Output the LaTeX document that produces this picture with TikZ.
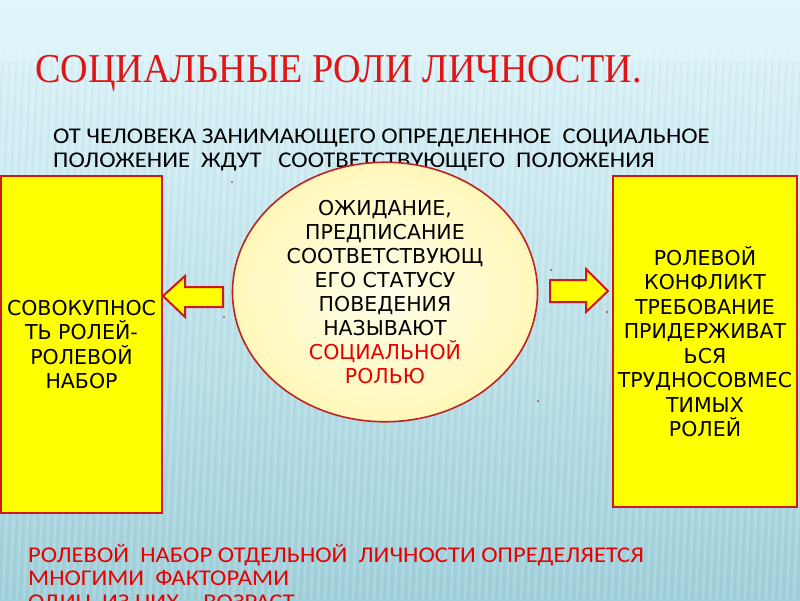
\documentclass[tikz,border=0pt]{standalone}
\usepackage{graphicx}
\usepackage{fontspec}
\setmainfont{DejaVu Sans}
\newfontfamily\titlefont{Liberation Serif}
\newfontfamily\calfont{Carlito}
\usetikzlibrary{shapes.geometric}
\definecolor{bgtop}{RGB}{224,246,251}
\definecolor{bgmid}{RGB}{200,234,242}
\definecolor{bgbot}{RGB}{160,208,218}
\definecolor{boxred}{RGB}{205,25,25}
\definecolor{ellred}{RGB}{190,35,35}
\definecolor{titlered}{RGB}{225,20,20}
\definecolor{txtred}{RGB}{230,0,0}
\definecolor{boxyellow}{RGB}{255,255,0}
\definecolor{ellin}{RGB}{255,255,235}
\definecolor{ellout}{RGB}{255,247,185}
\definecolor{dotc}{RGB}{120,70,100}
\newcommand{\widerline}[1]{\scalebox{1.095}[1]{#1}}
\begin{document}
\begin{tikzpicture}[x=1pt,y=-1pt,
  yellowbox/.style={draw=boxred, line width=2pt, fill=boxyellow, inner sep=0pt,
    align=center, font=\fontsize{20.5}{24.5}\selectfont},
  blockarrow/.style={draw=boxred, line width=2pt, fill=boxyellow, line join=miter},
  sublines/.style={anchor=base west, inner sep=0pt, font=\calfont\fontsize{22.5}{24}\selectfont},
  botlines/.style={sublines, text=txtred},
  speck/.style={circle, fill=dotc, inner sep=0pt, minimum size=2pt}]
\useasboundingbox (0,0) rectangle (800,600);
\clip (0,0) rectangle (800,600);
\shade[top color=bgtop, middle color=bgmid, bottom color=bgbot] (0,0) rectangle (800,600);
\foreach \i in {0,7,...,840}
  \draw[white, opacity=0.13, line width=2.5pt] (\i,50) -- (\i-25,600);
\foreach \i in {3,10,...,843}
  \draw[black!40!cyan, opacity=0.04, line width=2pt] (\i,50) -- (\i-25,600);
\shade[top color=bgtop, bottom color=bgtop, opacity=0.6] (0,0) rectangle (800,60);

% title
\node[anchor=base west, inner sep=0pt, text=titlered] (title) at (35,82)
  {\titlefont\fontsize{41}{41}\selectfont\scalebox{0.93}[1]{СОЦИАЛЬНЫЕ РОЛИ ЛИЧНОСТИ.}};

% subtitle
\node[sublines] (sub1) at (53,143) {\widerline{ОТ ЧЕЛОВЕКА ЗАНИМАЮЩЕГО ОПРЕДЕЛЕННОЕ ~СОЦИАЛЬНОЕ}};
\node[sublines] (sub2) at (53,167) {\widerline{ПОЛОЖЕНИЕ ~ЖДУТ ~~СООТВЕТСТВУЮЩЕГО ~ПОЛОЖЕНИЯ}};

% boxes
\node[yellowbox, minimum width=161pt, minimum height=337pt] (left) at (81.5,344.5)
  {СОВОКУПНОС\\ТЬ РОЛЕЙ-\\РОЛЕВОЙ\\НАБОР};
\node[yellowbox, minimum width=184pt, minimum height=331pt] (right) at (705,341.5)
  {РОЛЕВОЙ\\КОНФЛИКТ\\ТРЕБОВАНИЕ\\ПРИДЕРЖИВАТ\\ЬСЯ\\ТРУДНОСОВМЕС\\ТИМЫХ\\РОЛЕЙ};

% ellipse
\node[ellipse, draw=ellred, line width=1.6pt, inner color=ellin, outer color=ellout,
  minimum width=305pt, minimum height=217pt, inner sep=0pt, align=center,
  font=\fontsize{20.5}{24}\selectfont] (ell) at (385,292)
  {ОЖИДАНИЕ,\\ПРЕДПИСАНИЕ\\СООТВЕТСТВУЮЩ\\ЕГО СТАТУСУ\\ПОВЕДЕНИЯ\\НАЗЫВАЮТ\\
   \textcolor{txtred}{СОЦИАЛЬНОЙ}\\\textcolor{txtred}{РОЛЬЮ}};

% block arrows
\draw[blockarrow] (163,296) -- (185,276) -- (185,287) -- (223,287) -- (223,307)
  -- (185,307) -- (185,317) -- cycle;
\draw[blockarrow] (608,291) -- (586,269) -- (586,280) -- (550,280) -- (550,302)
  -- (586,302) -- (586,312) -- cycle;

% specks
\node[speck] (d1) at (232,182) {};
\node[speck] (d2) at (224,317) {};
\node[speck] (d3) at (551,270) {};
\node[speck, fill=boxred] (d4) at (607,312) {};
\node[speck, fill=boxred!70!dotc] (d5) at (538,401) {};

% bottom text
\node[botlines] (bot1) at (28,562) {\widerline{РОЛЕВОЙ ~НАБОР ОТДЕЛЬНОЙ ~ЛИЧНОСТИ ОПРЕДЕЛЯЕТСЯ}};
\node[botlines] (bot2) at (28,585) {\widerline{МНОГИМИ ~ФАКТОРАМИ}};
\node[botlines] (bot3) at (28,609) {\widerline{ОДИН ~ИЗ НИХ - ~ВОЗРАСТ}};
\end{tikzpicture}
\end{document}
